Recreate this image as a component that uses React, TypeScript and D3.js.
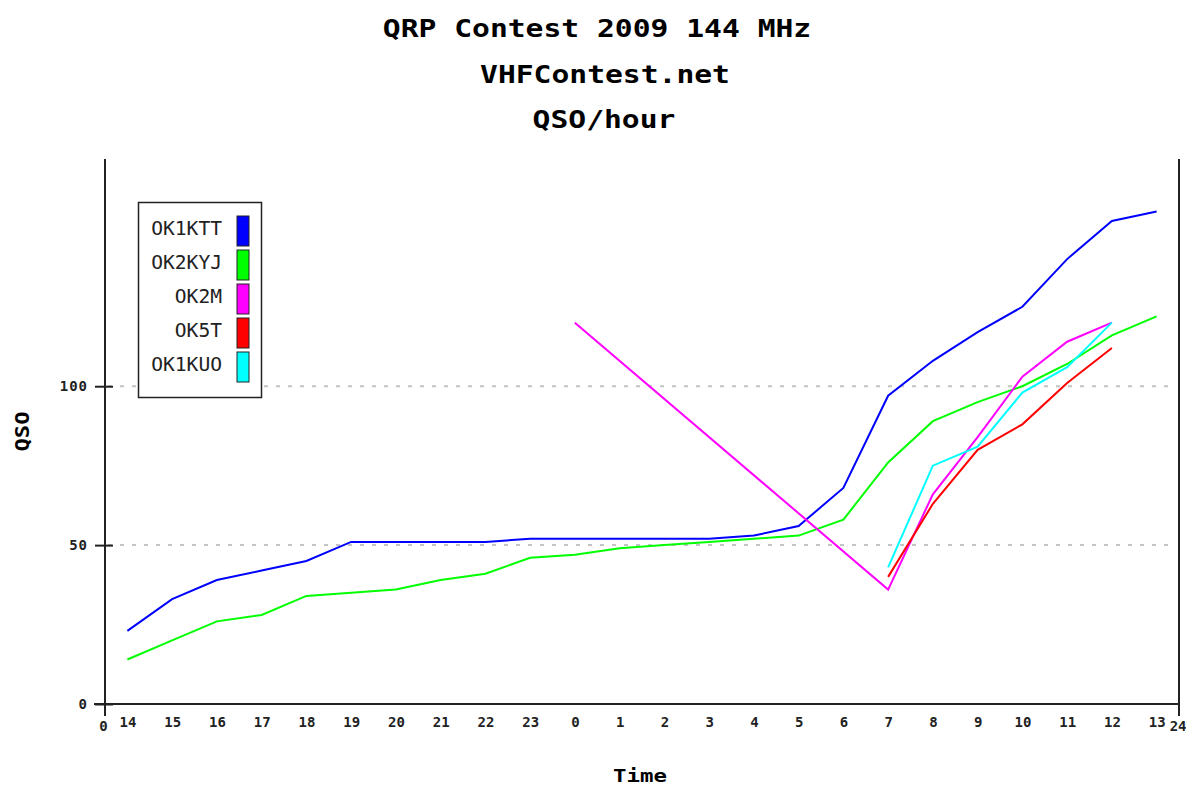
import { useEffect, useRef } from "react";
import * as d3 from "d3";

// hour labels along the x axis (contest runs 14:00 -> 13:00 next day)
const hours = [
  "14", "15", "16", "17", "18", "19", "20", "21", "22", "23",
  "0", "1", "2", "3", "4", "5", "6", "7", "8", "9", "10", "11", "12", "13",
];

const ok1ktt = [23, 33, 39, 42, 45, 51, 51, 51, 51, 52, 52, 52, 52, 52, 53, 56, 68, 97, 108, 117, 125, 140, 152, 155];
const ok2kyj = [14, 20, 26, 28, 34, 35, 36, 39, 41, 46, 47, 49, 50, 51, 52, 53, 58, 76, 89, 95, 100, 107, 116, 122];
const ok2m = [null, null, null, null, null, null, null, null, null, null, 120, null, null, null, null, null, null, 36, 66, 84, 103, 114, 120, null];
const ok5t = [null, null, null, null, null, null, null, null, null, null, null, null, null, null, null, null, null, 40, 63, 80, 88, 101, 112, null];
const ok1kuo = [null, null, null, null, null, null, null, null, null, null, null, null, null, null, null, null, null, 43, 75, 81, 98, 106, 120, null];

const seriesNames = ["OK1KTT", "OK2KYJ", "OK2M", "OK5T", "OK1KUO"];
const seriesColors = ["#0000ff", "#00ff00", "#ff00ff", "#ff0000", "#00ffff"];
const seriesValues = [ok1ktt, ok2kyj, ok2m, ok5t, ok1kuo];

const yTicks = [0, 50, 100];
const gridTicks = [50, 100];
const titles = ["QRP Contest 2009 144 MHz", "VHFContest.net", "QSO/hour"];

const MONO = "'DejaVu Sans Mono', 'Liberation Mono', monospace";

export default function App() {
  const svgRef = useRef<SVGSVGElement>(null);

  useEffect(() => {
    if (!svgRef.current) return;
    const svg = d3.select(svgRef.current);
    svg.selectAll("*").remove();

    const left = 105;
    const right = 1179;
    const top = 159;
    const bottom = 704;

    const x = d3.scaleLinear().domain([0, 24]).range([left, right]);
    const y = d3.scaleLinear().domain([0, 171.5]).range([bottom, top]);

    svg.append("rect").attr("width", 1186).attr("height", 787).attr("fill", "#fff");

    // titles
    const titleX = [597, 605, 604];
    const titleY = [37, 83, 128];
    titles.forEach((t, i) => {
      svg
        .append("text")
        .attr("x", titleX[i])
        .attr("y", titleY[i])
        .attr("text-anchor", "middle")
        .attr("textLength", t.length * 17.85)
        .attr("lengthAdjust", "spacingAndGlyphs")
        .style("font-family", MONO)
        .style("font-size", "24px")
        .style("font-weight", "bold")
        .style("fill", "#000")
        .text(t);
    });

    // grid lines
    svg
      .append("g")
      .selectAll("line")
      .data(gridTicks)
      .join("line")
      .attr("x1", left + 3)
      .attr("x2", right - 6)
      .attr("y1", (d) => y(d))
      .attr("y2", (d) => y(d))
      .attr("stroke", "#c4c4c4")
      .attr("stroke-width", 2)
      .attr("stroke-dasharray", "4,8");

    // y axis
    const yAxis = svg
      .append("g")
      .attr("transform", `translate(${left},0)`)
      .call(d3.axisLeft(y).tickValues(yTicks).tickSizeInner(10).tickSizeOuter(0).tickPadding(7));
    yAxis.select(".domain").remove();
    yAxis.selectAll(".tick line").attr("x1", 8).attr("stroke", "#222").attr("stroke-width", 2);
    yAxis
      .selectAll("text")
      .style("font-family", MONO)
      .style("font-size", "14px")
      .style("font-weight", "bold")
      .style("letter-spacing", "1px")
      .style("fill", "#222");

    // x axis category labels (centered in each hour)
    const xAxis = svg
      .append("g")
      .attr("transform", `translate(0,${bottom})`)
      .call(
        d3
          .axisBottom(x)
          .tickValues(hours.map((_, i) => i + 0.5))
          .tickFormat((_, i) => hours[i])
          .tickSize(0)
          .tickPadding(13),
      );
    xAxis.select(".domain").remove();
    xAxis
      .selectAll("text")
      .style("font-family", MONO)
      .style("font-size", "14px")
      .style("font-weight", "bold")
      .style("fill", "#222");

    // axis end labels 0 and 24
    const endAxis = svg
      .append("g")
      .attr("transform", `translate(0,${bottom})`)
      .call(d3.axisBottom(x).tickValues([0, 24]).tickSize(0).tickPadding(17));
    endAxis.select(".domain").remove();
    endAxis
      .selectAll("text")
      .attr("text-anchor", (d) => ((d as number) === 0 ? "middle" : "end"))
      .attr("dx", (d) => ((d as number) === 0 ? -2 : 7))
      .style("font-family", MONO)
      .style("font-size", "14px")
      .style("font-weight", "bold")
      .style("fill", "#222");

    // axis lines
    svg.append("line").attr("x1", left - 11).attr("x2", right).attr("y1", bottom).attr("y2", bottom)
      .attr("stroke", "#222").attr("stroke-width", 2);
    svg.append("line").attr("x1", left).attr("x2", left).attr("y1", top).attr("y2", bottom + 12)
      .attr("stroke", "#222").attr("stroke-width", 2);
    svg.append("line").attr("x1", right).attr("x2", right).attr("y1", top).attr("y2", bottom + 12)
      .attr("stroke", "#222").attr("stroke-width", 2);

    // axis titles
    svg
      .append("text")
      .attr("transform", `translate(29,${(top + bottom) / 2}) rotate(-90)`)
      .attr("text-anchor", "middle")
      .attr("textLength", 40)
      .attr("lengthAdjust", "spacingAndGlyphs")
      .style("font-family", MONO)
      .style("font-size", "19px")
      .style("font-weight", "bold")
      .text("QSO");
    svg
      .append("text")
      .attr("x", (left + right) / 2 - 2)
      .attr("y", 782)
      .attr("text-anchor", "middle")
      .attr("textLength", 54)
      .attr("lengthAdjust", "spacingAndGlyphs")
      .style("font-family", MONO)
      .style("font-size", "18px")
      .style("font-weight", "bold")
      .text("Time");

    // series lines (missing hours are skipped, so the line joins the known points)
    const line = d3
      .line<{ i: number; v: number }>()
      .x((d) => x(d.i + 0.5))
      .y((d) => y(d.v));

    seriesValues.forEach((vals, s) => {
      const pts = vals
        .map((v, i) => ({ i, v }))
        .filter((d) => d.v !== null) as { i: number; v: number }[];
      svg
        .append("path")
        .datum(pts)
        .attr("fill", "none")
        .attr("stroke", seriesColors[s])
        .attr("stroke-width", 2)
        .attr("d", line);
    });

    // legend
    const legend = svg.append("g");
    legend
      .append("rect")
      .attr("x", 138.5)
      .attr("y", 202.5)
      .attr("width", 123)
      .attr("height", 195)
      .attr("fill", "#fff")
      .attr("stroke", "#222")
      .attr("stroke-width", 1.5);

    seriesNames.forEach((name, i) => {
      const rowY = 216 + i * 34;
      legend
        .append("rect")
        .attr("x", 237)
        .attr("y", rowY)
        .attr("width", 12)
        .attr("height", 30)
        .attr("fill", seriesColors[i])
        .attr("stroke", "#222")
        .attr("stroke-width", 1);
      legend
        .append("text")
        .attr("x", 222)
        .attr("y", rowY + 19)
        .attr("text-anchor", "end")
        .attr("textLength", name.length * 11.8)
        .attr("lengthAdjust", "spacingAndGlyphs")
        .style("font-family", MONO)
        .style("font-size", "19px")
        .style("fill", "#222")
        .text(name);
    });
  }, []);

  return (
    <svg
      ref={svgRef}
      width={1186}
      height={787}
      style={{ position: "absolute", left: 0, top: 0 }}
    ></svg>
  );
}
